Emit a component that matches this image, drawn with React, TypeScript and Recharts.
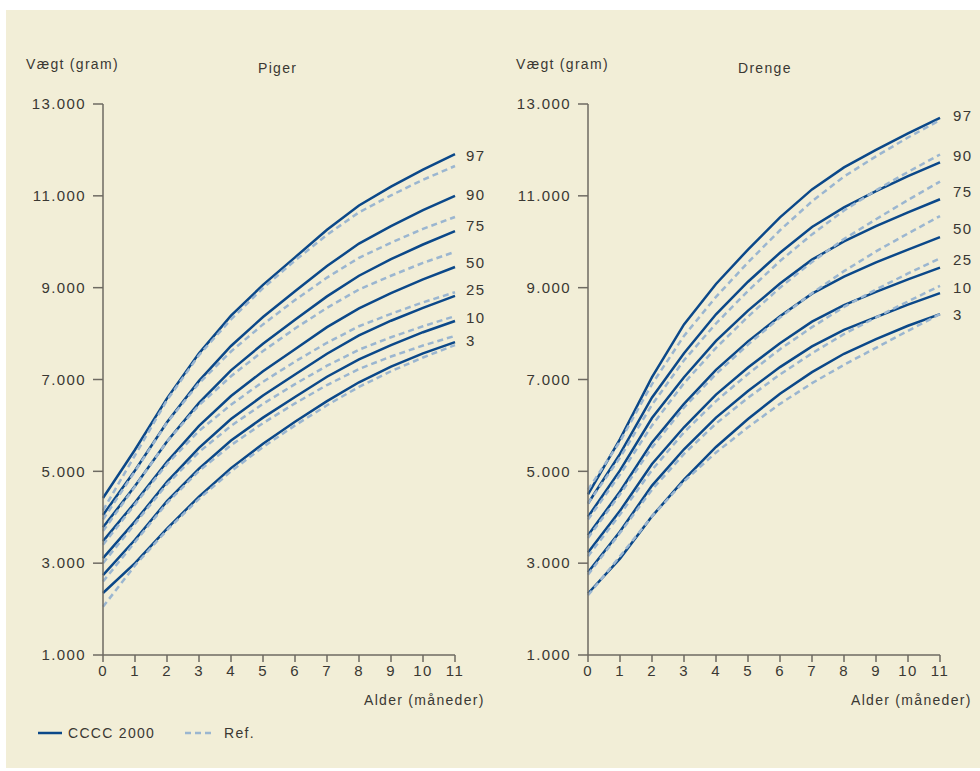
import React from "react";
import { LineChart, Line, XAxis, YAxis, LabelList } from "recharts";

// måneder 0-11
const months = [0, 1, 2, 3, 4, 5, 6, 7, 8, 9, 10, 11];
const percentiles = ["97", "90", "75", "50", "25", "10", "3"];
const yTicks = [1000, 3000, 5000, 7000, 9000, 11000, 13000];

// Piger - CCCC 2000
const girlsC97 = [4420, 5470, 6590, 7570, 8390, 9060, 9660, 10260, 10790, 11200, 11570, 11910];
const girlsC90 = [4050, 5020, 6070, 6970, 7730, 8360, 8920, 9470, 9960, 10340, 10690, 11000];
const girlsC75 = [3780, 4680, 5650, 6490, 7200, 7780, 8300, 8810, 9260, 9620, 9940, 10230];
const girlsC50 = [3480, 4320, 5210, 5990, 6640, 7180, 7660, 8140, 8550, 8880, 9180, 9450];
const girlsC25 = [3110, 3910, 4770, 5510, 6140, 6650, 7110, 7560, 7960, 8280, 8560, 8820];
const girlsC10 = [2740, 3510, 4350, 5060, 5670, 6170, 6620, 7060, 7440, 7750, 8030, 8275];
const girlsC3 = [2350, 3000, 3750, 4450, 5070, 5600, 6080, 6530, 6940, 7280, 7570, 7815];

// Piger - Ref.
const girlsR97 = [4150, 5350, 6550, 7530, 8310, 8990, 9590, 10150, 10640, 11010, 11350, 11650];
const girlsR90 = [3950, 5000, 6060, 6920, 7610, 8200, 8730, 9220, 9650, 9980, 10280, 10540];
const girlsR75 = [3700, 4670, 5650, 6440, 7070, 7620, 8110, 8560, 8960, 9260, 9540, 9780];
const girlsR50 = [3400, 4280, 5160, 5880, 6450, 6950, 7390, 7800, 8160, 8430, 8680, 8900];
const girlsR25 = [3000, 3860, 4720, 5420, 5990, 6470, 6900, 7300, 7650, 7920, 8160, 8380];
const girlsR10 = [2600, 3460, 4310, 5010, 5570, 6050, 6480, 6880, 7230, 7500, 7740, 7950];
const girlsR3 = [2050, 2950, 3720, 4400, 5000, 5530, 6000, 6440, 6840, 7180, 7480, 7750];

// Drenge - CCCC 2000
const boysC97 = [4500, 5700, 7050, 8200, 9080, 9830, 10530, 11140, 11620, 12000, 12360, 12700];
const boysC90 = [4300, 5380, 6610, 7570, 8420, 9130, 9760, 10320, 10750, 11100, 11430, 11730];
const boysC75 = [4010, 5020, 6160, 7050, 7840, 8500, 9090, 9610, 10010, 10340, 10640, 10925];
const boysC50 = [3610, 4560, 5630, 6470, 7210, 7830, 8380, 8870, 9240, 9550, 9830, 10100];
const boysC25 = [3230, 4140, 5160, 5960, 6670, 7260, 7790, 8260, 8620, 8910, 9180, 9435];
const boysC10 = [2800, 3690, 4690, 5480, 6170, 6750, 7270, 7720, 8080, 8360, 8630, 8880];
const boysC3 = [2340, 3100, 4020, 4820, 5530, 6140, 6690, 7160, 7560, 7880, 8170, 8425];

// Drenge - Ref.
const boysR97 = [4600, 5650, 6900, 7950, 8800, 9550, 10250, 10880, 11420, 11860, 12270, 12650];
const boysR90 = [4300, 5300, 6450, 7420, 8220, 8930, 9580, 10160, 10680, 11120, 11520, 11900];
const boysR75 = [3950, 4930, 6000, 6920, 7690, 8370, 9000, 9560, 10060, 10490, 10910, 11310];
const boysR50 = [3550, 4500, 5520, 6390, 7120, 7760, 8350, 8880, 9360, 9790, 10180, 10560];
const boysR25 = [3150, 4060, 5030, 5850, 6530, 7120, 7660, 8140, 8580, 8960, 9310, 9640];
const boysR10 = [2750, 3660, 4600, 5380, 6040, 6600, 7110, 7570, 7990, 8350, 8700, 9040];
const boysR3 = [2300, 3150, 4020, 4780, 5410, 5960, 6470, 6920, 7320, 7690, 8060, 8425];

const girlsC = [girlsC97, girlsC90, girlsC75, girlsC50, girlsC25, girlsC10, girlsC3];
const girlsR = [girlsR97, girlsR90, girlsR75, girlsR50, girlsR25, girlsR10, girlsR3];
const boysC = [boysC97, boysC90, boysC75, boysC50, boysC25, boysC10, boysC3];
const boysR = [boysR97, boysR90, boysR75, boysR50, boysR25, boysR10, boysR3];

const BG = "#f2eed7";
const DARK = "#0b4889";
const LIGHT = "#9bb6d0";
const AXIS = "#6e6a62";
const TEXT = "#3a3833";
const FONT = "'Liberation Sans', Arial, sans-serif";

function buildRows(cccc: number[][], ref: number[][]) {
  return months.map((m, i) => {
    const row: any = { m };
    percentiles.forEach((p, k) => {
      row["c" + p] = cccc[k][i];
      row["r" + p] = ref[k][i];
    });
    return row;
  });
}

function Panel({ rows, labelDy, labelDx }: { rows: any[]; labelDy: number[]; labelDx: number }) {
  const last = rows.length - 1;
  const tickStyle = { fill: TEXT, fontSize: 15, fontFamily: FONT, letterSpacing: 1.4 };
  return (
    <LineChart
      width={490}
      height={660}
      data={rows}
      margin={{ top: 44, right: 35, left: 43, bottom: 35 }}
      style={{ overflow: "visible" }}
    >
      <XAxis
        dataKey="m"
        type="number"
        domain={[0, 11]}
        ticks={months}
        interval={0}
        height={30}
        tickSize={7}
        tickMargin={3}
        axisLine={{ stroke: AXIS, strokeWidth: 1.5 }}
        tickLine={{ stroke: AXIS, strokeWidth: 1.5 }}
        tick={tickStyle}
      />
      <YAxis
        type="number"
        domain={[1000, 13000]}
        ticks={yTicks}
        interval={0}
        width={60}
        tickSize={10}
        tickMargin={7}
        axisLine={{ stroke: AXIS, strokeWidth: 1.5 }}
        tickLine={{ stroke: AXIS, strokeWidth: 1.5 }}
        tick={tickStyle}
        tickFormatter={(v: number) => `${v / 1000}.000`}
      />
      {percentiles.map((p, k) => (
        <Line
          key={"c" + p}
          dataKey={"c" + p}
          type="linear"
          stroke={DARK}
          strokeWidth={2.5}
          dot={false}
          isAnimationActive={false}
        >
          <LabelList
            dataKey={"c" + p}
            content={(props: any) =>
              props.index === last ? (
                <text
                  x={props.x + labelDx}
                  y={props.y + labelDy[k]}
                  fill={TEXT}
                  fontSize={15}
                  fontFamily={FONT}
                  letterSpacing={1.4}
                  dominantBaseline="central"
                >
                  {p}
                </text>
              ) : null
            }
          />
        </Line>
      ))}
      {percentiles.map((p) => (
        <Line
          key={"r" + p}
          dataKey={"r" + p}
          type="linear"
          stroke={LIGHT}
          strokeWidth={2.5}
          strokeDasharray="6 4"
          dot={false}
          isAnimationActive={false}
        />
      ))}
    </LineChart>
  );
}

const txt = (left: number, top: number, s: string, extra: any = {}) => (
  <div
    style={{
      position: "absolute",
      left,
      top,
      fontFamily: FONT,
      fontSize: 14,
      lineHeight: "18px",
      letterSpacing: "1.3px",
      color: TEXT,
      whiteSpace: "nowrap",
      ...extra,
    }}
  >
    {s}
  </div>
);

export default function App() {
  const girlsRows = buildRows(girlsC, girlsR);
  const boysRows = buildRows(boysC, boysR);
  return (
    <div style={{ position: "absolute", left: 0, top: 0, width: 980, height: 771, background: "#fff" }}>
      <div style={{ position: "absolute", left: 6, top: 10, width: 974, height: 758, background: BG }} />
      <div style={{ position: "absolute", left: 0, top: 60 }}>
        <Panel rows={girlsRows} labelDx={11} labelDy={[1, -1, -6, -5, -6, -3, -2]} />
      </div>
      <div style={{ position: "absolute", left: 485, top: 60 }}>
        <Panel rows={boysRows} labelDx={13} labelDy={[-2, -7, -8, -9, -8, -6, 0]} />
      </div>
      {txt(26, 55, "Vægt (gram)")}
      {txt(258, 59, "Piger")}
      {txt(516, 55, "Vægt (gram)")}
      {txt(738, 59, "Drenge")}
      {txt(364, 691, "Alder (måneder)")}
      {txt(851, 691, "Alder (måneder)")}
      <svg style={{ position: "absolute", left: 36, top: 726 }} width={200} height={14}>
        <line x1={2} y1={7} x2={26} y2={7} stroke={DARK} strokeWidth={2.5} />
        <line x1={149} y1={7} x2={177} y2={7} stroke={LIGHT} strokeWidth={2.5} strokeDasharray="6 4" />
      </svg>
      {txt(68, 724, "CCCC 2000")}
      {txt(224, 724, "Ref.")}
    </div>
  );
}
